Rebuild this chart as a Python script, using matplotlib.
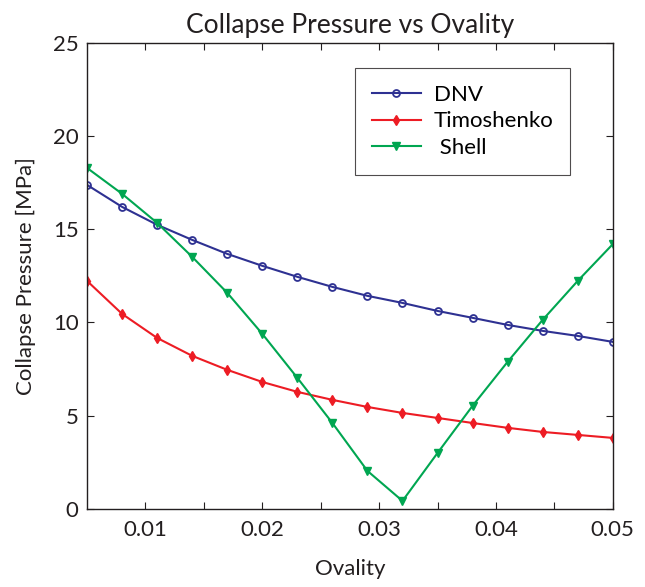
import matplotlib.pyplot as plt
import numpy as np

# Data
ovality = [0.005, 0.008, 0.011, 0.014, 0.017, 0.020, 0.023, 0.026,
           0.029, 0.032, 0.035, 0.038, 0.041, 0.044, 0.047, 0.050]
dnv = [17.38, 16.2, 15.24, 14.43, 13.68, 13.04, 12.45, 11.91,
       11.43, 11.05, 10.62, 10.25, 9.87, 9.55, 9.28, 8.96]
timoshenko = [12.23, 10.46, 9.17, 8.21, 7.46, 6.81, 6.28, 5.85,
              5.47, 5.15, 4.88, 4.61, 4.35, 4.13, 3.97, 3.81]
shell = [18.29, 16.9, 15.34, 13.52, 11.59, 9.39, 7.03, 4.61,
         2.04, 0.43, 3.0, 5.53, 7.89, 10.14, 12.23, 14.2]

plt.rcParams['font.family'] = ['Lato', 'DejaVu Sans']

fig = plt.figure(figsize=(6.45, 5.87), dpi=100)
ax = fig.add_axes([0.135, 0.133, 0.815, 0.794])

ax.plot(ovality, dnv, color='#2e3192', lw=1.5, marker='o', ms=5,
        mfc='none', mew=1.3, label='DNV')
ax.plot(ovality, timoshenko, color='#ed1c24', lw=1.5, marker='d', ms=5,
        label='Timoshenko')
ax.plot(ovality, shell, color='#00a651', lw=1.5, marker='v', ms=6,
        label=' Shell')

ax.set_xlim(0.005, 0.05)
ax.set_ylim(0, 25)
ax.set_xticks([0.01, 0.02, 0.03, 0.04, 0.05])
ax.set_xticklabels(['0.01', '0.02', '0.03', '0.04', '0.05'])
ax.set_xticks(np.arange(0.015, 0.05, 0.01), minor=True)
ax.set_yticks([0, 5, 10, 15, 20, 25])
ax.tick_params(which='both', direction='in', top=True, right=True,
               length=5, width=0.8, labelsize=16, colors='#231f20')
ax.tick_params(axis='x', pad=8)
ax.tick_params(axis='y', pad=6)
for s in ax.spines.values():
    s.set_linewidth(1.0)
    s.set_color('#231f20')

ax.set_title('Collapse Pressure vs Ovality', fontsize=19, color='#231f20', pad=7)
ax.set_xlabel('Ovality', fontsize=16, color='#231f20', labelpad=14)
ax.set_ylabel('Collapse Pressure [MPa]', fontsize=16, color='#231f20', labelpad=12)

leg = ax.legend(loc='upper left', bbox_to_anchor=(0.51, 0.946), fontsize=16,
                frameon=True, fancybox=False, edgecolor='#231f20',
                borderpad=0.75, handlelength=2.2, labelspacing=0.3,
                handletextpad=0.6, borderaxespad=0)
leg.get_frame().set_linewidth(0.8)

fig.savefig('out.png', dpi=100)
